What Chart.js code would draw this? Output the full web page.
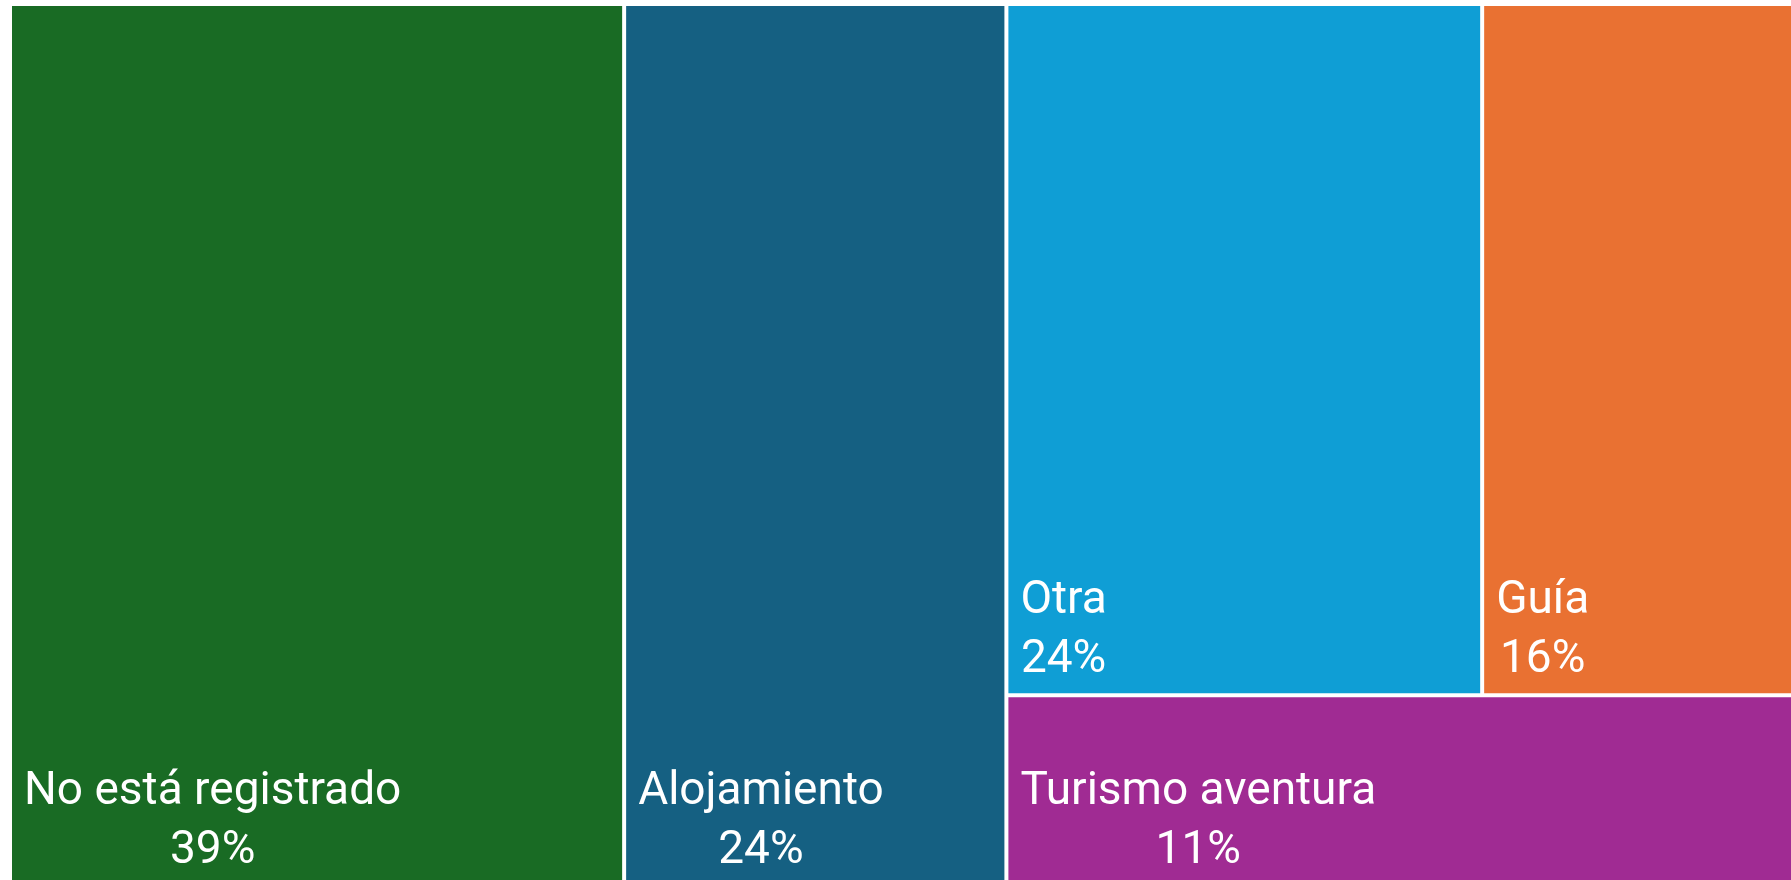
<!DOCTYPE html>
<html>
<head>
<meta charset="utf-8">
<script src="https://cdn.jsdelivr.net/npm/chart.js@4.4.1/dist/chart.umd.min.js"></script>
<style>
  html, body { margin: 0; padding: 0; background: #ffffff; overflow: hidden; }
  #wrap { position: absolute; left: 0; top: 0; width: 1796px; height: 886px; }
</style>
</head>
<body>
<div id="wrap"><canvas id="c"></canvas></div>
<script>
// ---- data (shares in %, estimated from the tile areas; labels show rounded values) ----
const categories = ['No está registrado', 'Alojamiento', 'Otra', 'Guía', 'Turismo aventura'];
const values = [39.2, 24.4, 23.8, 15.7, 10.9];
const colors = ['#196B24', '#156082', '#0F9ED5', '#E97132', '#A02B93'];
// layout tree (indices into categories): 'h' = side by side, 'v' = stacked
const layoutTree = { dir: 'h', children: [0, 1, { dir: 'v', children: [{ dir: 'h', children: [2, 3] }, 4] }] };

const total = values.reduce((a, b) => a + b, 0);

function nodeSum(n) {
  return typeof n === 'number' ? values[n] : n.children.reduce((s, c) => s + nodeSum(c), 0);
}
// compute cells in data units: x in [0,total], y in [0,1] (0 = top)
function layout(n, x0, y0, x1, y1, out) {
  if (typeof n === 'number') { out[n] = { x0, y0, x1, y1 }; return; }
  const s = nodeSum(n);
  let acc = 0;
  n.children.forEach(c => {
    const f0 = acc / s; acc += nodeSum(c); const f1 = acc / s;
    if (n.dir === 'h') layout(c, x0 + (x1 - x0) * f0, y0, x0 + (x1 - x0) * f1, y1, out);
    else layout(c, x0, y0 + (y1 - y0) * f0, x1, y0 + (y1 - y0) * f1, out);
  });
}
const cells = [];
layout(layoutTree, 0, 0, total, 1, cells);

const FONT = '46px Roboto, "Liberation Sans", sans-serif';

const treemapPlugin = {
  id: 'treemapDraw',
  afterDatasetsDraw(chart) {
    const ctx = chart.ctx, xs = chart.scales.x, ys = chart.scales.y;
    ctx.save();
    cells.forEach((c, i) => {
      const L = xs.getPixelForValue(c.x0), R = xs.getPixelForValue(c.x1);
      const T = ys.getPixelForValue(c.y0), B = ys.getPixelForValue(c.y1);
      ctx.fillStyle = colors[i];
      ctx.fillRect(L + 2, T + 2, (R - L) - 4, (B - T) - 4);
      ctx.fillStyle = '#ffffff';
      ctx.font = FONT;
      ctx.textBaseline = 'alphabetic';
      ctx.textAlign = 'left';
      const name = categories[i];
      const w = ctx.measureText(name).width;
      const tx = L + 14;
      ctx.fillText(name, tx, B - 82);
      ctx.textAlign = 'center';
      ctx.fillText(Math.round(values[i]) + '%', tx + w / 2, B - 23);
    });
    ctx.restore();
  }
};

new Chart(document.getElementById('c'), {
  type: 'scatter',
  data: { datasets: [{ data: [], pointRadius: 0 }] },
  options: {
    responsive: true,
    maintainAspectRatio: false,
    animation: false,
    layout: { padding: { left: 10, top: 4, right: 0, bottom: 0 } },
    scales: {
      x: { type: 'linear', min: 0, max: total, display: false },
      y: { type: 'linear', min: 0, max: 1, reverse: true, display: false }
    },
    plugins: { legend: { display: false }, tooltip: { enabled: false } }
  },
  plugins: [treemapPlugin]
});
</script>
</body>
</html>
